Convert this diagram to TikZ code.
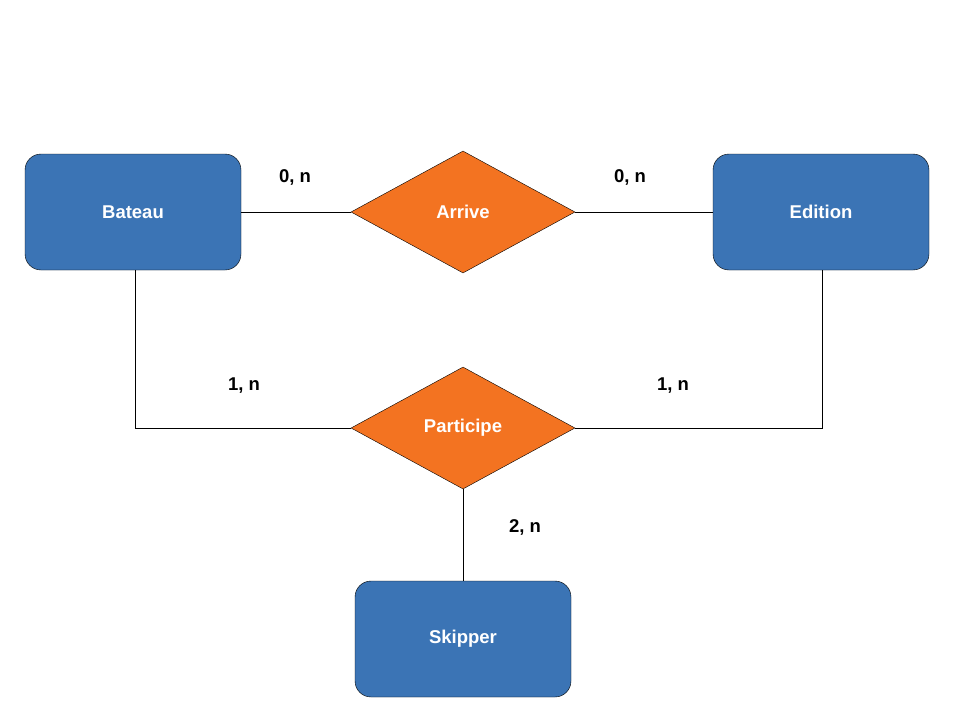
\documentclass[tikz,border=0pt]{standalone}
\usepackage{fontspec}
\setmainfont{Liberation Sans}
\usetikzlibrary{shapes.geometric}
\definecolor{entblue}{HTML}{3B74B5}
\definecolor{relorange}{HTML}{F37321}
\begin{document}
\begin{tikzpicture}[x=1pt,y=-1pt,
  entity/.style={draw=black, fill=entblue, rounded corners=16pt, minimum width=216pt, minimum height=116pt, inner sep=0pt, text=white, font=\fontsize{18.5}{20}\selectfont\bfseries},
  relation/.style={draw=black, fill=relorange, diamond, shape aspect=1.836, minimum width=224pt, minimum height=122pt, inner sep=0pt, text=white, font=\fontsize{18.5}{20}\selectfont\bfseries},
  card/.style={font=\fontsize{18.5}{20}\selectfont\bfseries, text=black},
  link/.style={draw=black, line width=0.9pt}]
\useasboundingbox (0,0) rectangle (960,720);
\fill[white] (0,0) rectangle (960,720);
\node[entity] (bateau) at (133,212) {Bateau};
\node[entity] (edition) at (821,212) {Edition};
\node[entity] (skipper) at (463,639) {Skipper};
\node[relation] (arrive) at (463,212) {Arrive};
\node[relation] (participe) at (463,428) {Participe};
\draw[link] (bateau.east) -- (arrive.west);
\draw[link] (arrive.east) -- (edition.west);
\draw[link] ([xshift=2pt]bateau.south) |- (participe.west);
\draw[link] ([xshift=1pt]edition.south) |- (participe.east);
\draw[link] (participe.south) -- (skipper.north);
\node[card] (c1) at (295,177) {0, n};
\node[card] (c2) at (630,177) {0, n};
\node[card] (c3) at (244,386) {1, n};
\node[card] (c4) at (673,386) {1, n};
\node[card] (c5) at (525,527) {2, n};
\end{tikzpicture}
\end{document}
